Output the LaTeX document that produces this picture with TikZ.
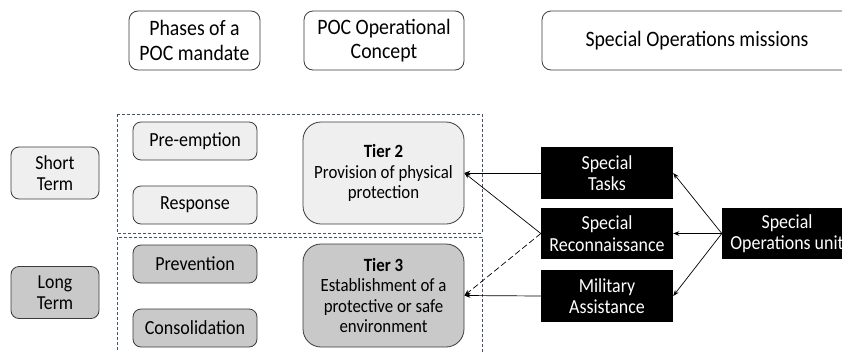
\documentclass[tikz,border=0pt]{standalone}
\usepackage{fontspec}
\setmainfont{Carlito}[FakeStretch=0.9]
\usetikzlibrary{arrows.meta}
\definecolor{lightfill}{HTML}{EFEFEF}
\definecolor{darkfill}{HTML}{C9C9C9}
\definecolor{edgegray}{HTML}{3A3A3A}
\definecolor{dashblue}{HTML}{44546A}
\begin{document}
\begin{tikzpicture}[x=1pt,y=-1pt,
  box/.style={draw=edgegray, line width=0.8pt, rounded corners=8pt, align=center, inner sep=0pt},
  headbox/.style={box, fill=white, rounded corners=9pt, minimum height=59pt, font=\fontsize{22}{24.5}\selectfont},
  termbox/.style={box, minimum width=88pt, minimum height=52pt, font=\fontsize{19.8}{21.5}\selectfont},
  phasebox/.style={box, minimum width=124pt, minimum height=38pt, font=\fontsize{20}{21}\selectfont},
  tierbox/.style={box, rounded corners=18pt, minimum width=161pt, minimum height=102pt, font=\fontsize{18.7}{20.5}\selectfont},
  blackbox/.style={fill=black, text=white, align=center, inner sep=0pt, minimum width=132pt, minimum height=52pt, font=\fontsize{19.9}{21.5}\selectfont},
  groupframe/.style={draw=dashblue, line width=0.8pt, dash pattern=on 3pt off 2pt},
  arr/.style={draw=black, line width=0.7pt, -{Stealth[length=6pt,width=4.5pt]}},
  darr/.style={arr, dash pattern=on 6pt off 3pt}
]
\useasboundingbox (0,0) rectangle (842,351);
% header boxes
\node[headbox, minimum width=131pt] (phases) at (194.5,40.5) {Phases of a\\POC mandate};
\node[headbox, minimum width=160pt] (poc) at (384,40.5) {POC Operational\\Concept};
\node[headbox, minimum width=340pt] (som) at (712,40.5) {\hspace*{-30pt}Special Operations missions};
% dashed group frames
\draw[groupframe] (117,114) rectangle (482,233);
\draw[groupframe] (117,237) rectangle (482,362);
% term boxes
\node[termbox, fill=lightfill] (short) at (55,173) {Short\\Term};
\node[termbox, fill=darkfill] (long) at (55,292.5) {Long\\Term};
% phase boxes
\node[phasebox, fill=lightfill] (pre) at (195,141) {Pre-emption};
\node[phasebox, fill=lightfill] (resp) at (195,205) {Response};
\node[phasebox, fill=darkfill] (prev) at (195,264) {Prevention};
\node[phasebox, fill=darkfill] (cons) at (195,328) {Consolidation};
% tier boxes
\node[tierbox, fill=lightfill] (tier2) at (383.5,173) {\textbf{Tier 2}\\Provision of physical\\protection};
\node[tierbox, fill=darkfill, minimum height=103pt] (tier3) at (383.5,295.5) {\textbf{Tier 3}\\Establishment of a\\protective or safe\\environment};
% mission boxes
\node[blackbox] (tasks) at (607,173) {Special\\Tasks};
\node[blackbox, minimum height=51pt] (recon) at (607,233.5) {Special\\Reconnaissance};
\node[blackbox] (mil) at (607,296) {Military\\Assistance};
\node[blackbox, minimum width=130pt, minimum height=51pt] (sou) at (787,233.5) {Special\\Operations unit};
% connectors
\draw[arr] (tasks.west) -- (tier2.east);
\draw[arr] (recon.west) -- (tier2.east);
\draw[darr] (recon.west) -- (tier3.east);
\draw[arr] (mil.west) -- (tier3.east);
\draw[arr] (sou.west) -- (tasks.east);
\draw[arr] (sou.west) -- (recon.east);
\draw[arr] (sou.west) -- (mil.east);
\end{tikzpicture}
\end{document}
